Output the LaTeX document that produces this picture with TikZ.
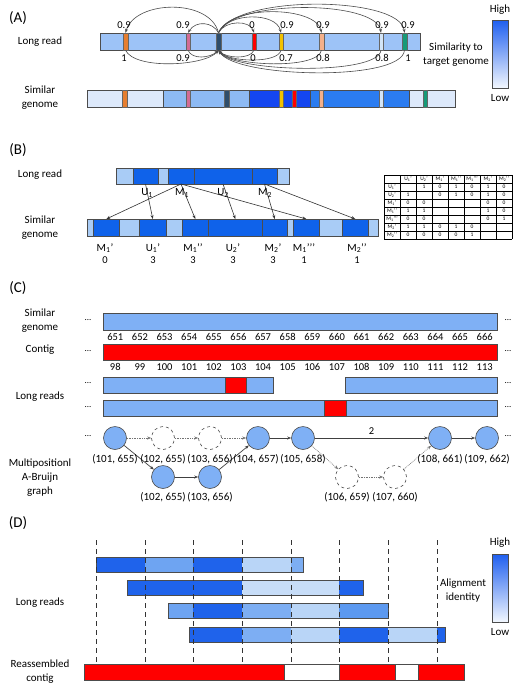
\documentclass[tikz,border=0pt]{standalone}
\usepackage{fontspec}
\setmainfont{Carlito}
\usetikzlibrary{arrows.meta}
\definecolor{lra}{HTML}{9DC3F7}
\definecolor{vlb}{HTML}{DDE9FB}
\definecolor{mb}{HTML}{8DBAF4}
\definecolor{db}{HTML}{1446F0}
\definecolor{bb}{HTML}{2B7CF0}
\definecolor{mor}{HTML}{E67E30}
\definecolor{mpk}{HTML}{D36C95}
\definecolor{mdk}{HTML}{2E4D6B}
\definecolor{mrd}{HTML}{FF0000}
\definecolor{myl}{HTML}{F2C200}
\definecolor{msl}{HTML}{F4B08A}
\definecolor{mlt}{HTML}{D3E5F7}
\definecolor{mtl}{HTML}{169A78}
\definecolor{cbtop}{HTML}{1F5FEF}
\definecolor{cbbot}{HTML}{F2F7FE}
\definecolor{bD}{HTML}{0F62EA}
\definecolor{bL}{HTML}{A9CCF6}
\definecolor{cb}{HTML}{7FB0F5}
\definecolor{dD}{HTML}{1F63EB}
\definecolor{dM}{HTML}{6EA4F2}
\definecolor{dL}{HTML}{B9D5F7}
\definecolor{dVL}{HTML}{C7DDF8}
\definecolor{dMb}{HTML}{7DAEF3}
\definecolor{dMc}{HTML}{5C99F0}
\newcommand\pp{'{}'}
\newcommand\ppp{'{}'{}'}
\begin{document}
\begin{tikzpicture}[x=1pt,y=-1pt, >={Stealth[length=4pt,width=3pt]},
 lbl/.style={font=\fontsize{11}{14}\selectfont, align=center, inner sep=0},
 plbl/.style={font=\fontsize{15}{17}\selectfont, inner sep=0},
 num/.style={font=\fontsize{10.5}{12}\selectfont, inner sep=0},
 dotsl/.style={font=\fontsize{9}{10}\selectfont, inner sep=0},
 bar/.style={draw=black!70, line width=0.6pt},
 stripe/.style={draw=black!60, line width=0.4pt, inner sep=0, minimum width=4.5pt, minimum height=17pt},
 gseg/.style={bar, inner sep=0, minimum height=17pt, anchor=north west},
 arc/.style={draw=black!70, line width=0.6pt, ->},
 tab/.style={font=\fontsize{5.5}{6}\selectfont, inner sep=0},
 tabline/.style={draw=black, line width=0.7pt},
 gnode/.style={circle, minimum size=23pt, inner sep=0, draw=black!70, line width=0.6pt, fill=cb},
 gdash/.style={circle, minimum size=23pt, inner sep=0, draw=black!70, line width=0.6pt, dashed, fill=white},
 solidedge/.style={->, draw=black!75, line width=0.7pt},
 dotedge/.style={->, draw=black!55, line width=0.7pt, densely dotted},
 vline/.style={draw=black!80, line width=0.8pt, dash pattern=on 5pt off 4pt},
 parr/.style={->, draw=black!80, line width=0.6pt},
]
\useasboundingbox (0,0) rectangle (520,691);
\fill[white] (0,0) rectangle (520,691);

% ================= Panel A
\node[plbl] (pA) at (18,18) {(A)};
\node[lbl] (lrA) at (40,42) {Long read};
\node[lbl] (sgA) at (40,98) {Similar\\genome};
\draw[bar, fill=lra] (100,33) rectangle (420,50);
\node[stripe, fill=mor] (or) at (125.5,41.5) {};
\node[stripe, fill=mpk] (pk) at (188,41.5) {};
\node[stripe, fill=mdk, minimum width=5pt] (dk) at (218.5,41.5) {};
\node[stripe, fill=mrd] (rd) at (254,41.5) {};
\node[stripe, fill=myl] (yl) at (281,41.5) {};
\node[stripe, fill=msl] (sl) at (321.5,41.5) {};
\node[stripe, fill=mlt] (lt) at (381,41.5) {};
\node[stripe, fill=mtl, minimum width=5pt] (tl) at (404.5,41.5) {};

\draw[bar, fill=vlb] (87,90) rectangle (163,107);
\draw[bar, fill=mb] (163,90) rectangle (249,107);
\draw[bar, fill=db] (249,90) rectangle (310,107);
\draw[bar, fill=bb] (310,90) rectangle (409,107);
\draw[bar, fill=vlb] (409,90) rectangle (455,107);
\node[stripe, fill=mor] (or2) at (124.5,98.5) {};
\node[stripe, fill=mpk] (pk2) at (188,98.5) {};
\node[stripe, fill=mdk] (dk2) at (226.5,98.5) {};
\node[stripe, fill=myl] (yl2) at (281,98.5) {};
\node[stripe, fill=mrd] (rd2) at (294,98.5) {};
\node[stripe, fill=msl] (sl2) at (321,98.5) {};
\node[stripe, fill=mlt] (lt2) at (381,98.5) {};
\node[stripe, fill=mtl] (tl2) at (425,98.5) {};

% top arcs
\draw[arc] (dk.north) .. controls (210,-2) and (135,0) .. (or.north);
\draw[arc] (dk.north) .. controls (213,22) and (196,20) .. (pk.north);
\draw[arc] (dk.north) .. controls (225,20) and (250,20) .. (rd.north);
\draw[arc] (dk.north) .. controls (228,12) and (276,12) .. (yl.north);
\draw[arc] (dk.north) .. controls (230,4) and (316,6) .. (sl.north);
\draw[arc] (dk.north) .. controls (233,-1) and (376,0) .. (lt.north);
\draw[arc] (dk.north) .. controls (236,-6) and (400,-4) .. (tl.north);
% bottom arcs
\draw[arc] (or.south) .. controls (135,70) and (205,66) .. (dk.south);
\draw[arc] (pk.south) .. controls (192,60) and (210,58) .. (dk.south);
\draw[arc] (rd.south) .. controls (250,60) and (226,58) .. (dk.south);
\draw[arc] (yl.south) .. controls (278,64) and (228,62) .. (dk.south);
\draw[arc] (sl.south) .. controls (318,70) and (230,66) .. (dk.south);
\draw[arc] (lt.south) .. controls (378,76) and (232,72) .. (dk.south);
\draw[arc] (tl.south) .. controls (402,82) and (235,78) .. (dk.south);

\node[num] (t1) at (124,25) {0.9};
\node[num] (t2) at (183,25) {0.9};
\node[num] (t3) at (252,25) {0};
\node[num] (t4) at (287,25) {0.9};
\node[num] (t5) at (323,25) {0.9};
\node[num] (t6) at (382,25) {0.9};
\node[num] (t7) at (408,25) {0.9};
\node[num] (b1) at (124,58) {1};
\node[num] (b2) at (183,58) {0.9};
\node[num] (b3) at (253,58) {0};
\node[num] (b4) at (286,58) {0.7};
\node[num] (b5) at (323,58) {0.8};
\node[num] (b6) at (382,58) {0.8};
\node[num] (b7) at (408,58) {1};

\node[lbl] (simt) at (456,55) {Similarity to\\target genome};
\shade[top color=cbtop, bottom color=cbbot] (492,20) rectangle (508,88);
\draw[bar] (492,20) rectangle (508,88);
\node[lbl] (hiA) at (500,10) {High};
\node[lbl] (loA) at (500,98) {Low};

% ================= Panel B
\node[plbl] (pB) at (18,150) {(B)};
\node[lbl] (lrB) at (40,175) {Long read};
\node[lbl] (sgB) at (40,228) {Similar\\genome};
\foreach \a/\b/\c in {116/133/bL,133/158/bD,158/168/bL,168/194/bD,194/252/bD,252/277/bD,277/289/bL}
  \draw[bar, fill=\c] (\a,168) rectangle (\b,184);
\coordinate (u1) at (145.5,184);
\coordinate (m1) at (181,184);
\coordinate (u2) at (223,184);
\coordinate (m2) at (264.5,184);

\node[gseg, fill=bL, minimum width=6pt] (g0) at (87,219) {};
\node[gseg, fill=bD, minimum width=26pt] (gM1a) at (93,219) {};
\node[gseg, fill=bL, minimum width=20pt] (g1) at (119,219) {};
\node[gseg, fill=bD, minimum width=27pt] (gU1) at (139,219) {};
\node[gseg, fill=bL, minimum width=16pt] (g2) at (166,219) {};
\node[gseg, fill=bD, minimum width=26pt] (gM1b) at (182,219) {};
\node[gseg, fill=bD, minimum width=54pt] (gU2) at (208,219) {};
\node[gseg, fill=bD, minimum width=25pt] (gM2a) at (262,219) {};
\node[gseg, fill=bL, minimum width=6pt] (g3) at (287,219) {};
\node[gseg, fill=bD, minimum width=26pt] (gM1c) at (293,219) {};
\node[gseg, fill=bL, minimum width=23pt] (g4) at (319,219) {};
\node[gseg, fill=bD, minimum width=26pt] (gM2b) at (342,219) {};
\node[gseg, fill=bL, minimum width=10pt] (g5) at (368,219) {};

\draw[parr] (u1) -- (gU1.north);
\draw[parr] (m1) -- (gM1a.north);
\draw[parr] (m1) -- (gM1b.north);
\draw[parr] (m1) -- (gM1c.north);
\draw[parr] (u2) -- (gU2.north);
\draw[parr] (m2) -- (gM2a.north);
\draw[parr] (m2) -- (gM2b.north);

\node[lbl] (lu1) at (147,193) {U\textsubscript{1}};
\node[lbl] (lm1) at (182,193) {M\textsubscript{1}};
\node[lbl] (lu2) at (223,193) {U\textsubscript{2}};
\node[lbl] (lm2) at (265,193) {M\textsubscript{2}};

\node[lbl] (n1) at (105,248) {M\textsubscript{1}'};
\node[lbl] (n2) at (153,248) {U\textsubscript{1}'};
\node[lbl] (n3) at (193,248) {M\textsubscript{1}\pp};
\node[lbl] (n4) at (233,248) {U\textsubscript{2}'};
\node[lbl] (n5) at (273,248) {M\textsubscript{2}'};
\node[lbl] (n6) at (304,248) {M\textsubscript{1}\ppp};
\node[lbl] (n7) at (357,248) {M\textsubscript{2}\pp};
\foreach \x/\v in {105/0,153/3,193/3,233/3,273/3,304/1,357/1}
  \node[num] at (\x,260) {\v};

% table
\foreach \i in {0,...,8} \draw[tabline] (384,{175+8*\i}) -- (512,{175+8*\i});
\draw[tabline] (384,175) -- (384,239);
\foreach \i in {0,...,7} \draw[tabline] ({400+16*\i},175) -- ({400+16*\i},239);
\foreach \t [count=\i from 0] in {U\textsubscript{1}',U\textsubscript{2}',M\textsubscript{1}',M\textsubscript{1}\pp,M\textsubscript{1}\ppp,M\textsubscript{2}',M\textsubscript{2}\pp}{
  \node[tab] at ({408+16*\i},179) {\t};
  \node[tab] at (392,{187+8*\i}) {\t};
}
\foreach \r/\row in {0/{ ,1,0,1,0,1,0},1/{1, ,0,1,0,1,0},2/{0,0, , , ,0,0},3/{1,1, , , ,1,0},4/{0,0, , , ,0,1},5/{1,1,0,1,0, , },6/{0,0,0,0,1, , }}{
  \foreach \v [count=\c from 0] in \row
    \node[tab] at ({408+16*\c},{187+8*\r}) {\v};
}

% ================= Panel C
\node[plbl] (pC) at (18,288) {(C)};
\node[lbl] (sgC) at (40,321) {Similar\\genome};
\node[lbl] (ctC) at (40,350) {Contig};
\node[lbl] (lrC) at (40,397) {Long reads};
\node[lbl] (mpC) at (40,478) {Multipositionl\\A-Bruijn\\graph};
\foreach \y in {320,351,383,407,436} \node[dotsl] at (88,\y) {...};
\foreach \y in {320,351,383,407,436} \node[dotsl] at (508,\y) {...};
\draw[bar, fill=cb] (103,313) rectangle (497,330);
\draw[bar, fill=mrd] (103,344) rectangle (497,360);
\foreach \i in {0,...,15}{
  \pgfmathtruncatemacro\ga{651+\i}
  \pgfmathtruncatemacro\ca{98+\i}
  \node[num] at ({115.3+24.625*\i},337) {\ga};
  \node[num] at ({115.3+24.625*\i},367) {\ca};
}
\draw[bar, fill=cb] (103,377) rectangle (273,393);
\draw[bar, fill=mrd] (225,377) rectangle (246,393);
\draw[bar, fill=cb] (345,377) rectangle (497,393);
\draw[bar, fill=cb] (103,400) rectangle (497,416);
\draw[bar, fill=mrd] (324,400) rectangle (346,416);

\node[gnode] (A) at (115,438) {};
\node[gdash] (B) at (163,438) {};
\node[gdash] (C) at (210,438) {};
\node[gnode] (D) at (258,438) {};
\node[gnode] (E) at (303,438) {};
\node[gnode] (F) at (440,438) {};
\node[gnode] (G) at (487,438) {};
\node[gnode] (H) at (163,477) {};
\node[gnode] (I) at (210,477) {};
\node[gdash] (J) at (347,477) {};
\node[gdash] (K) at (395,477) {};
\draw[dotedge] (A) -- (B);
\draw[dotedge] (B) -- (C);
\draw[dotedge] (C) -- (D);
\draw[solidedge] (A) -- (H);
\draw[solidedge] (H) -- (I);
\draw[solidedge] (I) -- (D);
\draw[solidedge] (D) -- (E);
\draw[solidedge] (E) -- node[num, above=3pt] {2} (F);
\draw[solidedge] (F) -- (G);
\draw[dotedge] (E) -- (J);
\draw[dotedge] (J) -- (K);
\draw[dotedge] (K) -- (F);
\node[lbl] at (115,459) {(101, 655)};
\node[lbl] at (163,459) {(102, 655)};
\node[lbl] at (210,459) {(103, 656)};
\node[lbl] at (256,459) {(104, 657)};
\node[lbl] at (303,459) {(105, 658)};
\node[lbl] at (440,459) {(108, 661)};
\node[lbl] at (487,459) {(109, 662)};
\node[lbl] at (163,497) {(102, 655)};
\node[lbl] at (210,497) {(103, 656)};
\node[lbl] at (347,497) {(106, 659)};
\node[lbl] at (395,497) {(107, 660)};

% ================= Panel D
\node[plbl] (pD) at (18,523) {(D)};
\node[lbl] (lrD) at (40,603) {Long reads};
\node[lbl] (raD) at (40,672) {Reassembled\\contig};
\node[lbl] (aiD) at (463,591) {Alignment\\identity};
\shade[top color=cbtop, bottom color=cbbot] (492,554) rectangle (508,622);
\draw[bar] (492,554) rectangle (508,622);
\node[lbl] (hiD) at (500,543) {High};
\node[lbl] (loD) at (500,632) {Low};

\foreach \a/\b/\c in {96/145/dD,145/193/dM,193/242/dD,242/291/dL,291/303/dMb}
  \fill[\c] (\a,557) rectangle (\b,572);
\draw[bar] (96,557) rectangle (303,572);
\foreach \a/\b/\c in {127/242/dD,242/339/dVL,339/363/dD}
  \fill[\c] (\a,580) rectangle (\b,595);
\draw[bar] (127,580) rectangle (363,595);
\foreach \a/\b/\c in {168/193/dM,193/242/dD,242/291/dMb,291/339/dL,339/388/dMc}
  \fill[\c] (\a,603) rectangle (\b,618);
\draw[bar] (168,603) rectangle (388,618);
\foreach \a/\b/\c in {189/242/dD,242/291/dMb,291/339/dL,339/388/dD,388/437/dL,437/445/dD}
  \fill[\c] (\a,627) rectangle (\b,642);
\draw[bar] (189,627) rectangle (445,642);

\fill[mrd] (84,664) rectangle (464,680);
\fill[white] (284,664) rectangle (339,680);
\fill[white] (395,664) rectangle (418,680);
\draw[bar] (84,664) rectangle (464,680);
\draw[bar] (284,664) -- (284,680) (339,664) -- (339,680) (395,664) -- (395,680) (418,664) -- (418,680);

\foreach \x in {96,145,193,242,291,339,388,437}
  \draw[vline] (\x,540) -- (\x,663);
\end{tikzpicture}
\end{document}
